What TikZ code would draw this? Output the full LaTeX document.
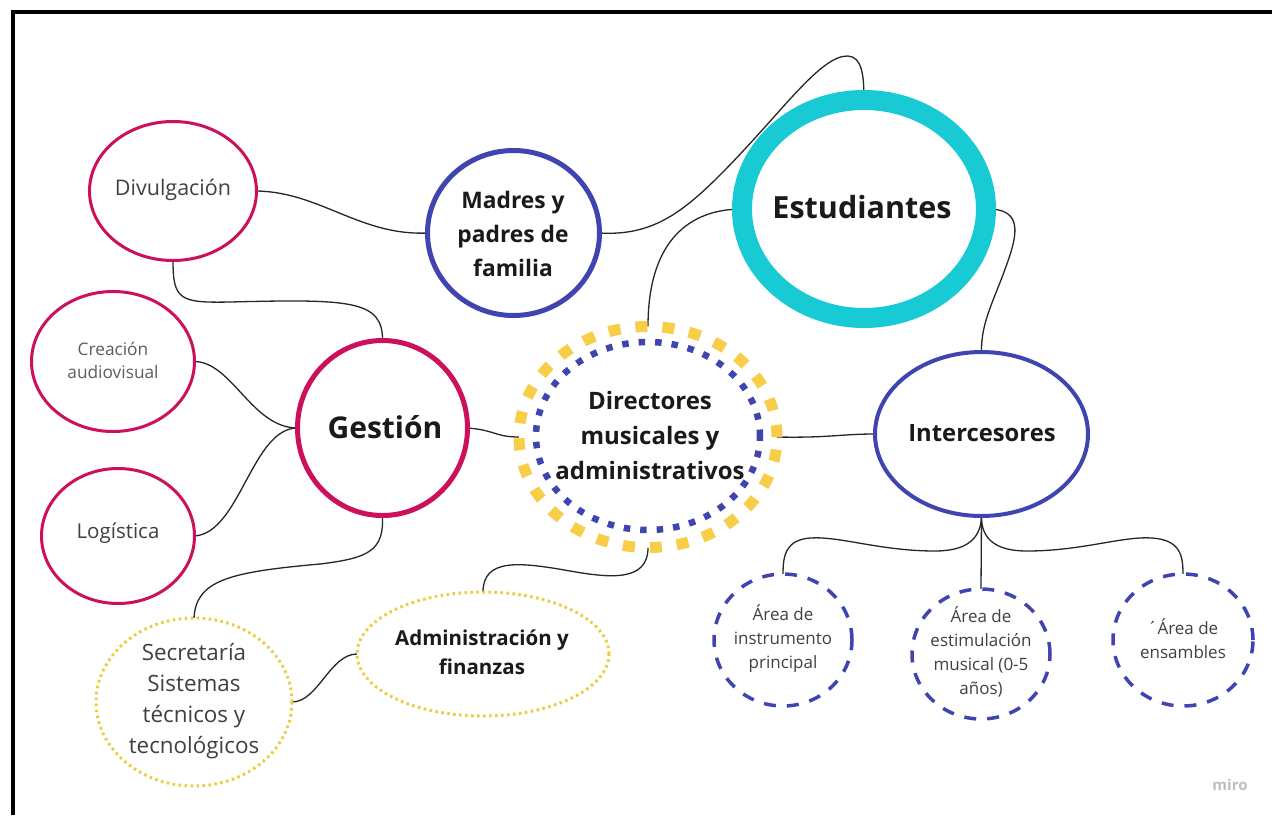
\documentclass[tikz,border=0pt]{standalone}
\usepackage{fontspec}
\setmainfont{Open Sans}
\usetikzlibrary{shapes.geometric}
\pgfdeclarelayer{bg}
\pgfsetlayers{bg,main}
\definecolor{mag}{RGB}{204,16,92}
\definecolor{blu}{RGB}{64,68,176}
\definecolor{tea}{RGB}{24,202,212}
\definecolor{yel}{RGB}{248,206,72}
\definecolor{yeld}{RGB}{236,204,60}
\definecolor{txtd}{RGB}{26,26,26}
\definecolor{txtg}{RGB}{64,64,64}
\begin{document}
\begin{tikzpicture}[x=1pt,y=-1pt,
  shp/.style={ellipse, inner sep=0pt, outer sep=0pt, fill=white},
  magc/.style={shp, draw=mag, line width=3pt},
  bluc/.style={shp, draw=blu, line width=5pt},
  dashc/.style={shp, draw=blu, line width=3.5pt, dash pattern=on 12pt off 11pt},
  dotc/.style={shp, draw=yeld, line width=3pt, dash pattern=on 2.5pt off 3.5pt},
  conn/.style={draw=black!85, line width=1.3pt},
  lbl/.style={align=center, text=txtg, inner sep=0pt},
  blbl/.style={align=center, text=txtd, inner sep=0pt, font=\bfseries},
]
\useasboundingbox (0,0) rectangle (1272,815);

% nodes
\node[magc, minimum width=167pt, minimum height=139pt] (div) at (173,191) {};
\node[lbl, font=\fontsize{21.5}{28}\selectfont] (divt) at (173,190) {Divulgación};

\node[magc, minimum width=163pt, minimum height=140pt] (cre) at (113,361.5) {};
\node[lbl, text=txtg!85, font=\fontsize{17.3}{23}\selectfont] (cret) at (113,360) {Creación\\audiovisual};

\node[magc, minimum width=153pt, minimum height=135pt] (log) at (118,536) {};
\node[lbl, font=\fontsize{20.5}{26}\selectfont] (logt) at (118,533) {Logística};

\node[magc, line width=5pt, minimum width=170pt, minimum height=175pt] (ges) at (382.5,428) {};
\node[blbl, font=\bfseries\fontsize{30}{34}\selectfont] (gest) at (385,427) {Gestión};

\node[bluc, minimum width=172pt, minimum height=165pt] (mad) at (513.5,233) {};
\node[blbl, font=\bfseries\fontsize{22.8}{34}\selectfont] (madt) at (513,234) {Madres y\\padres de\\familia};

\node[shp, draw=tea, line width=20pt, minimum width=244pt, minimum height=218pt] (est) at (864,209) {};
\node[blbl, font=\bfseries\fontsize{30.5}{34}\selectfont] (estt) at (862,207) {Estudiantes};

\node[shp, draw=yel, line width=11pt, dash pattern=on 12pt off 15pt, minimum width=258pt, minimum height=221pt] (dir) at (648,437) {};
\node[shp, draw=blu, line width=6.5pt, dash pattern=on 6.5pt off 10pt, minimum width=224pt, minimum height=188pt] (dirin) at (648,436) {};
\node[blbl, font=\bfseries\fontsize{24}{35}\selectfont] (dirt) at (650,435) {Directores\\musicales y\\administrativos};

\node[bluc, line width=4pt, minimum width=213pt, minimum height=164pt] (int) at (981.5,434) {};
\node[blbl, font=\bfseries\fontsize{23.8}{28}\selectfont] (intt) at (982,433) {Intercesores};

\node[dashc, minimum width=138pt, minimum height=132pt] (ins) at (783,640) {};
\node[lbl, font=\fontsize{17}{24}\selectfont] (inst) at (783,639) {Área de\\instrumento\\principal};

\node[dashc, minimum width=138pt, minimum height=130pt] (esm) at (981,654) {};
\node[lbl, font=\fontsize{17}{24}\selectfont] (esmt) at (981,652) {Área de\\estimulación\\musical (0-5\\años)};

\node[dashc, minimum width=140pt, minimum height=132pt] (ens) at (1183,640) {};
\node[lbl, font=\fontsize{17}{24}\selectfont] (enst) at (1183,639) {´Área de\\ensambles};

\node[dotc, minimum width=252pt, minimum height=124pt] (adm) at (483,654) {};
\node[blbl, font=\bfseries\fontsize{20.5}{29}\selectfont] (admt) at (482,652) {Administración y\\finanzas};

\node[dotc, minimum width=196pt, minimum height=168pt] (sec) at (194,702) {};
\node[lbl, font=\fontsize{22.4}{31}\selectfont] (sect) at (194,701) {Secretaría\\Sistemas\\técnicos y\\tecnológicos};

\node[text=black!25, font=\bfseries\fontsize{15}{18}\selectfont, inner sep=0pt] (miro) at (1230,785) {miro};

% background and connectors
\begin{pgfonlayer}{bg}
\fill[white] (0,0) rectangle (1272,815);
\draw[line width=4pt] (13,815) -- (13,12) -- (1272,12);
\draw[conn] (div.east) .. controls (320,192) and (360,236) .. (mad.west);
\draw[conn] (div.south) .. controls (173,300) and (180,303) .. (230,302) .. controls (350,299) and (383,300) .. (ges.north);
\draw[conn] (cre.east) .. controls (232,362) and (252,428) .. (ges.west);
\draw[conn] (log.east) .. controls (240,533) and (252,428) .. (ges.west);
\draw[conn] (ges.east) .. controls (495,430) and (495,437) .. (dir.west);
\draw[conn] (mad.east) .. controls (650,236) and (680,215) .. (720,175) .. controls (780,115) and (820,55) .. (848,56) .. controls (862,57) and (864,75) .. (est.north);
\draw[conn] (dir.north) .. controls (648,240) and (690,209) .. (est.west);
\draw[conn] (est.east) .. controls (1020,208) and (1018,230) .. (1010,255) .. controls (995,300) and (981,320) .. (int.north);
\draw[conn] (dir.east) .. controls (830,438) and (840,434) .. (int.west);
\draw[conn] (int.south) .. controls (981,540) and (965,551) .. (935,551) .. controls (880,551) and (840,536) .. (810,538) .. controls (786,540) and (783,555) .. (ins.north);
\draw[conn] (int.south) .. controls (981,540) and (997,551) .. (1027,551) .. controls (1082,551) and (1122,536) .. (1152,538) .. controls (1180,540) and (1183,555) .. (ens.north);
\draw[conn] (int.south) -- (esm.north);
\draw[conn] (ges.south) .. controls (384,550) and (370,558) .. (320,564) .. controls (230,572) and (196,580) .. (sec.north);
\draw[conn] (sec.east) .. controls (318,702) and (330,654) .. (adm.west);
\draw[conn] (dir.south) .. controls (648,582) and (610,578) .. (570,571) .. controls (520,562) and (483,558) .. (adm.north);
\end{pgfonlayer}
\end{tikzpicture}
\end{document}
